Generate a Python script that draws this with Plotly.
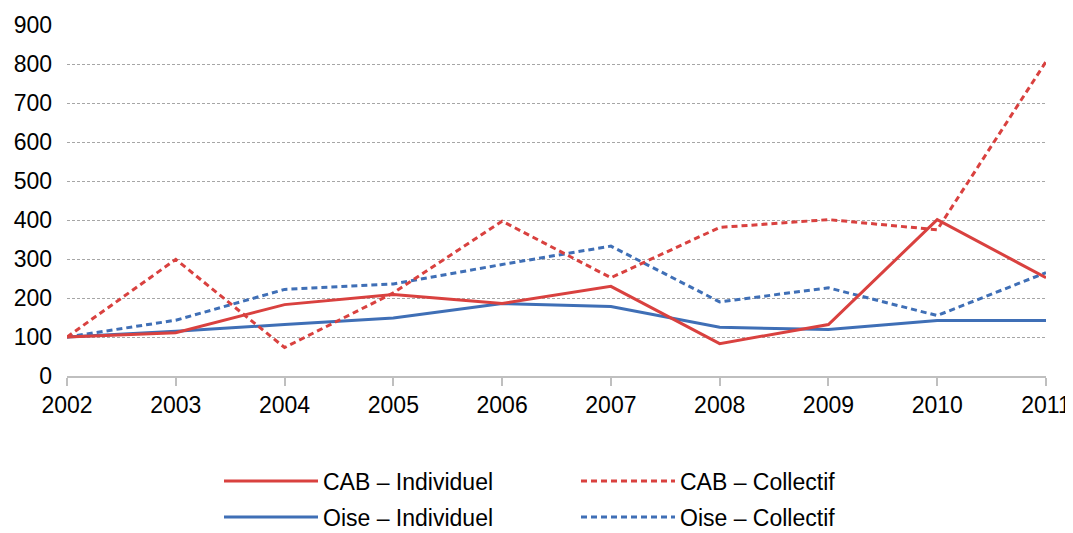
import plotly.graph_objects as go

years = [2002, 2003, 2004, 2005, 2006, 2007, 2008, 2009, 2010, 2011]
cab_individuel = [100, 111, 183, 209, 186, 230, 83, 132, 401, 252]
cab_collectif = [100, 299, 73, 213, 397, 252, 381, 401, 375, 806]
oise_individuel = [100, 115, 132, 149, 186, 178, 125, 119, 142, 142]
oise_collectif = [100, 143, 222, 236, 286, 333, 190, 226, 155, 265]
y_ticks = [0, 100, 200, 300, 400, 500, 600, 700, 800, 900]

RED = "#D9413F"
BLUE = "#3F6FB6"
FONT = "Liberation Sans"
FS = 23
W, H = 1065, 525  # page body has an 8px margin

fig = go.Figure()
fig.add_trace(go.Scatter(x=years, y=oise_collectif, mode="lines", name="Oise – Collectif",
                         line=dict(color=BLUE, width=3, dash="6px,4px"), legend="legend2"))
fig.add_trace(go.Scatter(x=years, y=oise_individuel, mode="lines", name="Oise – Individuel",
                         line=dict(color=BLUE, width=3), legend="legend2"))
fig.add_trace(go.Scatter(x=years, y=cab_collectif, mode="lines", name="CAB – Collectif",
                         line=dict(color=RED, width=3, dash="6px,4px"), legend="legend"))
fig.add_trace(go.Scatter(x=years, y=cab_individuel, mode="lines", name="CAB – Individuel",
                         line=dict(color=RED, width=3), legend="legend"))

legend_common = dict(orientation="h", xanchor="left", yanchor="middle",
                     xref="container", yref="container",
                     entrywidth=248, itemwidth=94, traceorder="reversed",
                     font=dict(family=FONT, size=FS, color="#000000"),
                     bgcolor="rgba(0,0,0,0)", borderwidth=0)

fig.update_layout(
    width=W, height=H,
    margin=dict(l=59, r=27, t=17, b=157, autoexpand=False),
    paper_bgcolor="white", plot_bgcolor="white",
    font=dict(family=FONT, size=FS, color="#000000"),
    showlegend=True,
    legend=dict(x=211 / W, y=1 - 473 / H, **legend_common),
    legend2=dict(x=211 / W, y=1 - 509 / H, **legend_common),
    xaxis=dict(range=[2002, 2011], tickmode="array", tickvals=years,
               ticktext=[str(y) for y in years],
               showgrid=False, zeroline=False, showline=True, linecolor="#BFBFBF", linewidth=1.5,
               ticks="outside", ticklen=8, tickcolor="#BFBFBF", tickwidth=1.5,
               tickfont=dict(family=FONT, size=FS, color="#000000")),
    yaxis=dict(range=[0, 900], tickmode="array", tickvals=y_ticks,
               ticktext=[str(v) for v in y_ticks],
               showgrid=True, gridcolor="#A6A6A6", gridwidth=1, griddash="3px,2px",
               zeroline=False, showline=False, ticks="", ticklabelstandoff=14,
               tickfont=dict(family=FONT, size=FS, color="#000000")),
)

fig.write_html("out.html")
